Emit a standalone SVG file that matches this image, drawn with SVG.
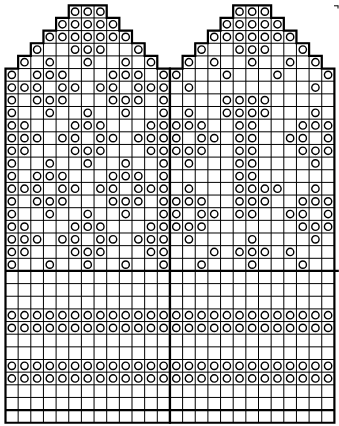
<svg xmlns="http://www.w3.org/2000/svg" xmlns:xlink="http://www.w3.org/1999/xlink" width="339" height="426" viewBox="0 0 339 426">
<style>
.o{fill:none;stroke:#000;stroke-width:1.4;vector-effect:non-scaling-stroke}
.g{fill:none;stroke:#000;stroke-width:1;vector-effect:non-scaling-stroke}
.t{fill:none;stroke:#000;stroke-width:2.2;stroke-linejoin:miter;vector-effect:non-scaling-stroke}
</style>
<defs>
<circle id="o" class="o" cx=".5" cy=".5" r=".29"/>
<g id="full">
<use href="#o" x="0"/><use href="#o" x="1"/><use href="#o" x="2"/><use href="#o" x="3"/><use href="#o" x="4"/><use href="#o" x="5"/><use href="#o" x="6"/><use href="#o" x="7"/><use href="#o" x="8"/><use href="#o" x="9"/><use href="#o" x="10"/><use href="#o" x="11"/><use href="#o" x="12"/><use href="#o" x="13"/><use href="#o" x="14"/><use href="#o" x="15"/><use href="#o" x="16"/><use href="#o" x="17"/><use href="#o" x="18"/><use href="#o" x="19"/><use href="#o" x="20"/><use href="#o" x="21"/><use href="#o" x="22"/><use href="#o" x="23"/><use href="#o" x="24"/><use href="#o" x="25"/>
</g>
</defs>
<rect width="339" height="426" fill="#fff"/>
<g id="chart" transform="translate(5.5 5.3) scale(12.65)">
<g id="grid">
<path class="g" d="M4 1H9M3 2H10M2 3H11M1 4H12M0 5H13M17 1H22M16 2H23M15 3H24M14 4H25M13 5H26M0 6H26M0 7H26M0 8H26M0 9H26M0 10H26M0 11H26M0 12H26M0 13H26M0 14H26M0 15H26M0 16H26M0 17H26M0 18H26M0 19H26M0 20H26M0 22H26M0 23H26M0 24H26M0 25H26M0 26H26M0 27H26M0 28H26M0 29H26M0 30H26M0 31H26"/>
<path class="g" d="M1 4V33M2 3V33M3 2V33M4 1V33M5 0V33M6 0V33M7 0V33M8 0V33M9 1V33M10 2V33M11 3V33M12 4V33M14 4V33M15 3V33M16 2V33M17 1V33M18 0V33M19 0V33M20 0V33M21 0V33M22 1V33M23 2V33M24 3V33M25 4V33"/>
</g>
<g id="left-mitten">
<path class="t" d="M0 33V5H1V4H2V3H3V2H4V1H5V0H8V1H9V2H10V3H11V4H12V5H13V33Z"/>
</g>
<g id="right-mitten">
<path class="t" d="M13 33V5H14V4H15V3H16V2H17V1H18V0H21V1H22V2H23V3H24V4H25V5H26V33Z"/>
</g>
<g id="dividers">
<path class="t" d="M0 21H26.35M0 32H26"/>
</g>
<g id="stitches">
<g transform="translate(0 0)"><use href="#o" x="5"/><use href="#o" x="6"/><use href="#o" x="7"/><use href="#o" x="18"/><use href="#o" x="19"/><use href="#o" x="20"/></g>
<g transform="translate(0 1)"><use href="#o" x="4"/><use href="#o" x="5"/><use href="#o" x="6"/><use href="#o" x="7"/><use href="#o" x="8"/><use href="#o" x="17"/><use href="#o" x="18"/><use href="#o" x="19"/><use href="#o" x="20"/><use href="#o" x="21"/></g>
<g transform="translate(0 2)"><use href="#o" x="3"/><use href="#o" x="4"/><use href="#o" x="5"/><use href="#o" x="6"/><use href="#o" x="7"/><use href="#o" x="8"/><use href="#o" x="9"/><use href="#o" x="16"/><use href="#o" x="17"/><use href="#o" x="18"/><use href="#o" x="19"/><use href="#o" x="20"/><use href="#o" x="21"/><use href="#o" x="22"/></g>
<g transform="translate(0 3)"><use href="#o" x="2"/><use href="#o" x="5"/><use href="#o" x="6"/><use href="#o" x="7"/><use href="#o" x="10"/><use href="#o" x="15"/><use href="#o" x="18"/><use href="#o" x="19"/><use href="#o" x="20"/><use href="#o" x="23"/></g>
<g transform="translate(0 4)"><use href="#o" x="1"/><use href="#o" x="3"/><use href="#o" x="6"/><use href="#o" x="9"/><use href="#o" x="11"/><use href="#o" x="14"/><use href="#o" x="16"/><use href="#o" x="19"/><use href="#o" x="22"/><use href="#o" x="24"/></g>
<g transform="translate(0 5)"><use href="#o" x="0"/><use href="#o" x="2"/><use href="#o" x="3"/><use href="#o" x="4"/><use href="#o" x="8"/><use href="#o" x="9"/><use href="#o" x="10"/><use href="#o" x="12"/><use href="#o" x="13"/><use href="#o" x="17"/><use href="#o" x="21"/><use href="#o" x="25"/></g>
<g transform="translate(0 6)"><use href="#o" x="0"/><use href="#o" x="1"/><use href="#o" x="2"/><use href="#o" x="4"/><use href="#o" x="5"/><use href="#o" x="7"/><use href="#o" x="8"/><use href="#o" x="10"/><use href="#o" x="11"/><use href="#o" x="12"/><use href="#o" x="14"/><use href="#o" x="24"/></g>
<g transform="translate(0 7)"><use href="#o" x="0"/><use href="#o" x="2"/><use href="#o" x="3"/><use href="#o" x="4"/><use href="#o" x="8"/><use href="#o" x="9"/><use href="#o" x="10"/><use href="#o" x="12"/><use href="#o" x="17"/><use href="#o" x="18"/><use href="#o" x="19"/><use href="#o" x="20"/></g>
<g transform="translate(0 8)"><use href="#o" x="0"/><use href="#o" x="3"/><use href="#o" x="6"/><use href="#o" x="9"/><use href="#o" x="12"/><use href="#o" x="14"/><use href="#o" x="17"/><use href="#o" x="18"/><use href="#o" x="19"/><use href="#o" x="20"/><use href="#o" x="24"/></g>
<g transform="translate(0 9)"><use href="#o" x="0"/><use href="#o" x="1"/><use href="#o" x="5"/><use href="#o" x="6"/><use href="#o" x="7"/><use href="#o" x="11"/><use href="#o" x="12"/><use href="#o" x="13"/><use href="#o" x="14"/><use href="#o" x="15"/><use href="#o" x="18"/><use href="#o" x="19"/><use href="#o" x="23"/><use href="#o" x="24"/><use href="#o" x="25"/></g>
<g transform="translate(0 10)"><use href="#o" x="0"/><use href="#o" x="1"/><use href="#o" x="2"/><use href="#o" x="4"/><use href="#o" x="5"/><use href="#o" x="7"/><use href="#o" x="8"/><use href="#o" x="10"/><use href="#o" x="11"/><use href="#o" x="12"/><use href="#o" x="13"/><use href="#o" x="15"/><use href="#o" x="16"/><use href="#o" x="18"/><use href="#o" x="19"/><use href="#o" x="22"/><use href="#o" x="23"/><use href="#o" x="25"/></g>
<g transform="translate(0 11)"><use href="#o" x="0"/><use href="#o" x="1"/><use href="#o" x="5"/><use href="#o" x="6"/><use href="#o" x="7"/><use href="#o" x="11"/><use href="#o" x="12"/><use href="#o" x="13"/><use href="#o" x="14"/><use href="#o" x="15"/><use href="#o" x="18"/><use href="#o" x="19"/><use href="#o" x="23"/><use href="#o" x="24"/><use href="#o" x="25"/></g>
<g transform="translate(0 12)"><use href="#o" x="0"/><use href="#o" x="3"/><use href="#o" x="6"/><use href="#o" x="9"/><use href="#o" x="12"/><use href="#o" x="14"/><use href="#o" x="18"/><use href="#o" x="19"/><use href="#o" x="24"/></g>
<g transform="translate(0 13)"><use href="#o" x="0"/><use href="#o" x="2"/><use href="#o" x="3"/><use href="#o" x="4"/><use href="#o" x="8"/><use href="#o" x="9"/><use href="#o" x="10"/><use href="#o" x="12"/><use href="#o" x="18"/><use href="#o" x="19"/></g>
<g transform="translate(0 14)"><use href="#o" x="0"/><use href="#o" x="1"/><use href="#o" x="2"/><use href="#o" x="4"/><use href="#o" x="5"/><use href="#o" x="7"/><use href="#o" x="8"/><use href="#o" x="10"/><use href="#o" x="11"/><use href="#o" x="12"/><use href="#o" x="14"/><use href="#o" x="18"/><use href="#o" x="19"/><use href="#o" x="20"/><use href="#o" x="21"/><use href="#o" x="24"/></g>
<g transform="translate(0 15)"><use href="#o" x="0"/><use href="#o" x="2"/><use href="#o" x="3"/><use href="#o" x="4"/><use href="#o" x="8"/><use href="#o" x="9"/><use href="#o" x="10"/><use href="#o" x="12"/><use href="#o" x="13"/><use href="#o" x="14"/><use href="#o" x="15"/><use href="#o" x="18"/><use href="#o" x="19"/><use href="#o" x="20"/><use href="#o" x="23"/><use href="#o" x="24"/><use href="#o" x="25"/></g>
<g transform="translate(0 16)"><use href="#o" x="0"/><use href="#o" x="3"/><use href="#o" x="6"/><use href="#o" x="9"/><use href="#o" x="12"/><use href="#o" x="13"/><use href="#o" x="15"/><use href="#o" x="16"/><use href="#o" x="18"/><use href="#o" x="19"/><use href="#o" x="22"/><use href="#o" x="23"/><use href="#o" x="25"/></g>
<g transform="translate(0 17)"><use href="#o" x="0"/><use href="#o" x="1"/><use href="#o" x="5"/><use href="#o" x="6"/><use href="#o" x="7"/><use href="#o" x="11"/><use href="#o" x="12"/><use href="#o" x="13"/><use href="#o" x="14"/><use href="#o" x="15"/><use href="#o" x="23"/><use href="#o" x="24"/><use href="#o" x="25"/></g>
<g transform="translate(0 18)"><use href="#o" x="0"/><use href="#o" x="1"/><use href="#o" x="2"/><use href="#o" x="4"/><use href="#o" x="5"/><use href="#o" x="7"/><use href="#o" x="8"/><use href="#o" x="10"/><use href="#o" x="11"/><use href="#o" x="12"/><use href="#o" x="14"/><use href="#o" x="19"/><use href="#o" x="24"/></g>
<g transform="translate(0 19)"><use href="#o" x="0"/><use href="#o" x="1"/><use href="#o" x="5"/><use href="#o" x="6"/><use href="#o" x="7"/><use href="#o" x="11"/><use href="#o" x="12"/><use href="#o" x="16"/><use href="#o" x="18"/><use href="#o" x="19"/><use href="#o" x="20"/><use href="#o" x="22"/></g>
<g transform="translate(0 20)"><use href="#o" x="0"/><use href="#o" x="3"/><use href="#o" x="6"/><use href="#o" x="9"/><use href="#o" x="12"/><use href="#o" x="15"/><use href="#o" x="19"/><use href="#o" x="23"/></g>
<use href="#full" y="24"/>
<use href="#full" y="25"/>
<use href="#full" y="28"/>
<use href="#full" y="29"/>
</g>
</g>
<g id="corner-mark">
<path d="M334 5.8H338.5M338 5.8V8.5" fill="none" stroke="#000" stroke-width="1"/>
</g>
</svg>
